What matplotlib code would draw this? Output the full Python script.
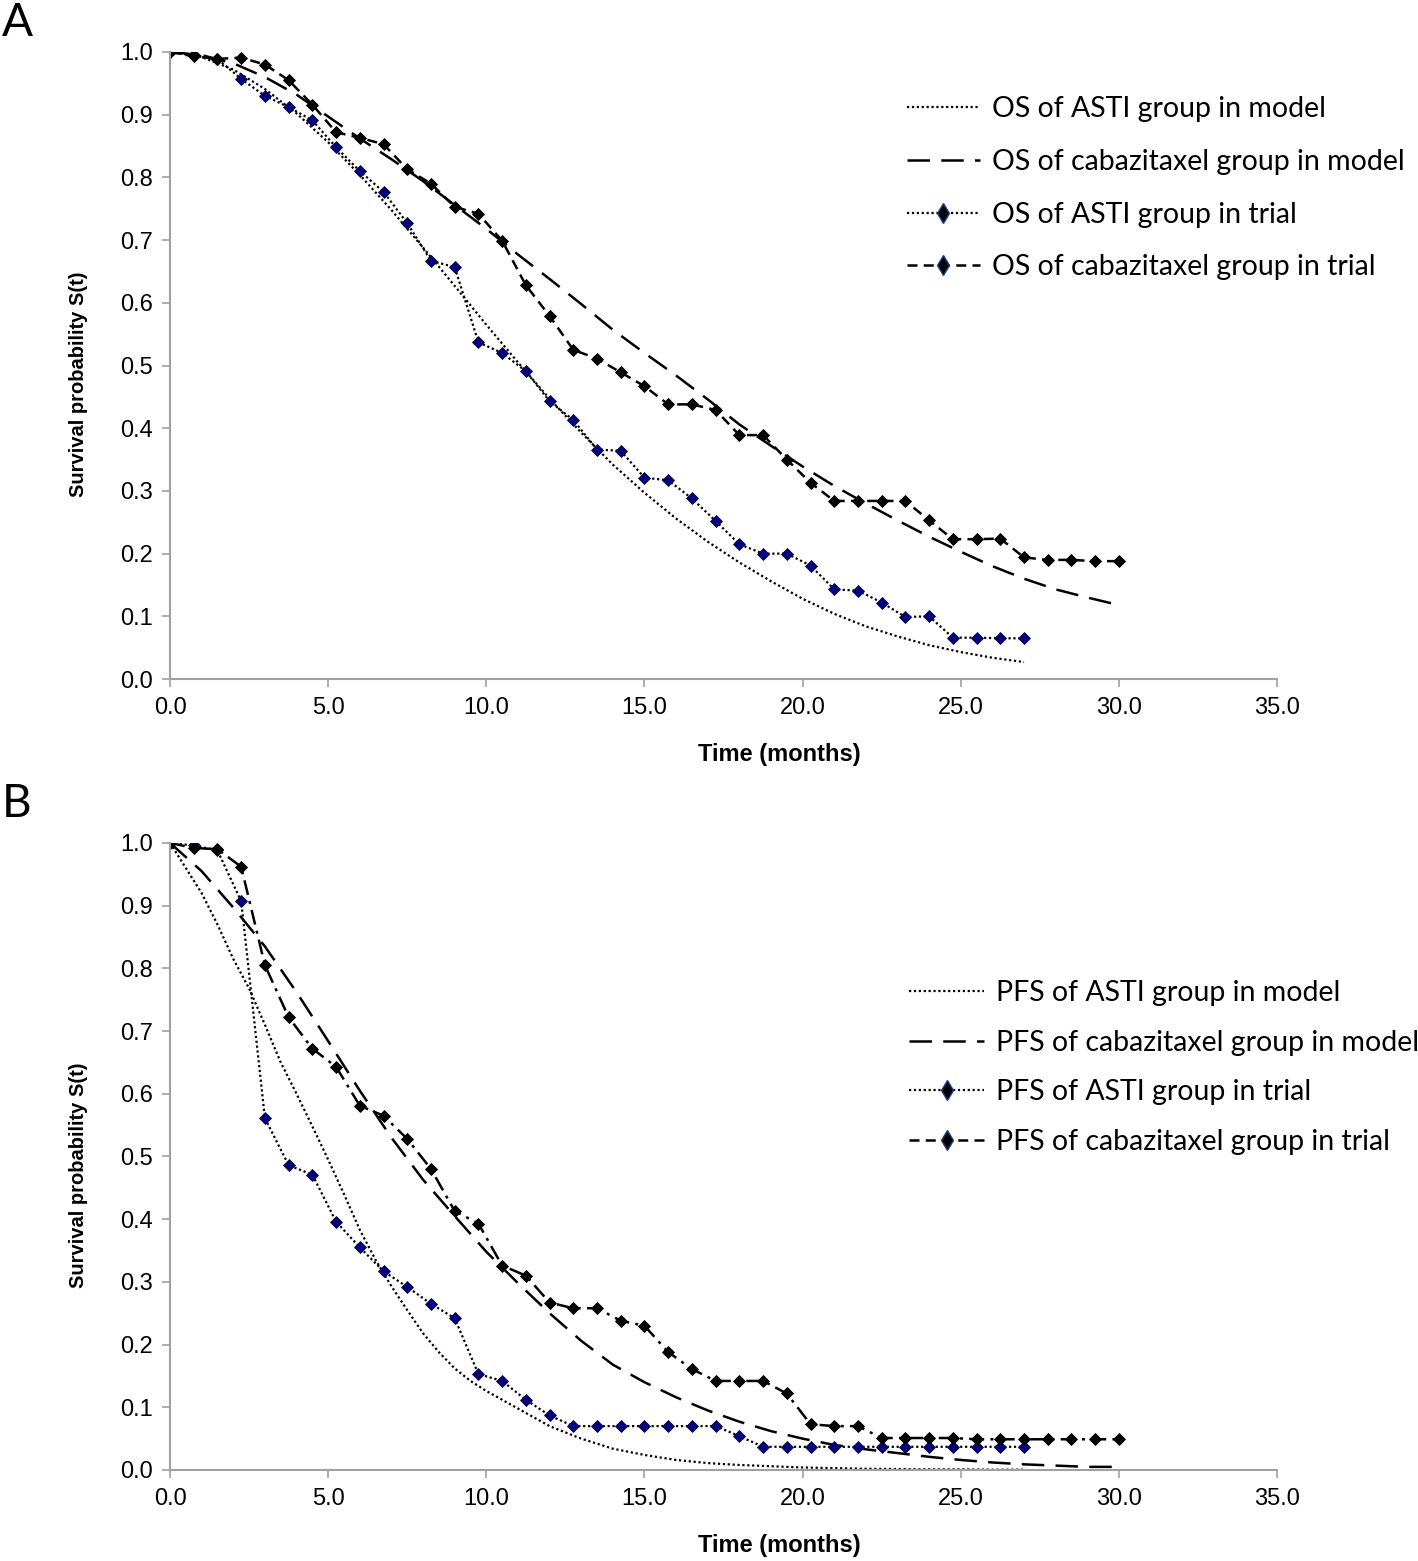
import matplotlib
matplotlib.use('Agg')
import matplotlib.pyplot as plt
from matplotlib.lines import Line2D
from matplotlib.ticker import MultipleLocator, FormatStrFormatter

# time grid of the trial points (every 0.75 month)
trial_t = [0.0, 0.75, 1.5, 2.25, 3.0, 3.75, 4.5, 5.25, 6.0, 6.75, 7.5, 8.25, 9.0, 9.75,
           10.5, 11.25, 12.0, 12.75, 13.5, 14.25, 15.0, 15.75, 16.5, 17.25, 18.0, 18.75,
           19.5, 20.25, 21.0, 21.75, 22.5, 23.25, 24.0, 24.75, 25.5, 26.25, 27.0, 27.75,
           28.5, 29.25, 30.0]

# panel A: overall survival
os_asti_trial = [1.0, 0.995, 0.989, 0.957, 0.930, 0.912, 0.891, 0.848, 0.810, 0.777, 0.727,
                 0.667, 0.657, 0.537, 0.520, 0.491, 0.443, 0.413, 0.366, 0.364, 0.321, 0.317,
                 0.288, 0.252, 0.215, 0.200, 0.200, 0.181, 0.143, 0.141, 0.122, 0.099, 0.100,
                 0.066, 0.066, 0.065, 0.065]
os_cab_trial = [1.0, 0.993, 0.989, 0.991, 0.980, 0.955, 0.916, 0.872, 0.863, 0.853, 0.813,
                0.790, 0.753, 0.742, 0.699, 0.628, 0.579, 0.525, 0.511, 0.489, 0.467, 0.438,
                0.438, 0.429, 0.389, 0.389, 0.350, 0.313, 0.284, 0.284, 0.284, 0.284, 0.253,
                0.223, 0.223, 0.224, 0.194, 0.190, 0.190, 0.188, 0.188]

os_model_t = list(range(0, 31))
os_asti_model = [1.0, 0.992, 0.972, 0.941, 0.902, 0.856, 0.804, 0.748, 0.688, 0.627, 0.565,
                 0.505, 0.447, 0.393, 0.342, 0.297, 0.256, 0.219, 0.186, 0.156, 0.128, 0.104,
                 0.084, 0.068, 0.054, 0.043, 0.034, 0.027]
os_cab_model = [1.0, 0.995, 0.982, 0.960, 0.932, 0.897, 0.862, 0.829, 0.794, 0.756, 0.718,
                0.677, 0.638, 0.598, 0.557, 0.520, 0.484, 0.446, 0.406, 0.372, 0.339, 0.308,
                0.280, 0.253, 0.227, 0.203, 0.180, 0.160, 0.143, 0.130, 0.118]

# panel B: progression-free survival
pfs_asti_trial = [1.0, 0.996, 0.988, 0.907, 0.561, 0.486, 0.471, 0.396, 0.355, 0.317, 0.292,
                  0.265, 0.242, 0.153, 0.142, 0.112, 0.087, 0.070, 0.070, 0.070, 0.070, 0.070,
                  0.070, 0.070, 0.054, 0.037, 0.037, 0.037, 0.037, 0.037, 0.037, 0.037, 0.037,
                  0.037, 0.037, 0.037, 0.037]
pfs_cab_trial = [1.0, 0.992, 0.990, 0.962, 0.805, 0.722, 0.672, 0.643, 0.581, 0.565, 0.528,
                 0.480, 0.413, 0.393, 0.326, 0.310, 0.267, 0.258, 0.258, 0.238, 0.230, 0.188,
                 0.161, 0.142, 0.142, 0.142, 0.122, 0.073, 0.070, 0.070, 0.051, 0.051, 0.051,
                 0.051, 0.049, 0.049, 0.049, 0.049, 0.049, 0.049, 0.049]

pfs_asti_model_t = [0, 0.5, 1, 1.5, 2, 2.5, 3, 3.5, 4, 4.5, 5, 5.5, 6, 6.5, 7, 7.5, 8, 8.5, 9,
                    9.5, 10, 11, 12, 13, 14, 15, 16, 17, 18, 19, 20, 21, 22, 23, 24, 25, 26, 27]
pfs_asti_model = [1.0, 0.96, 0.92, 0.87, 0.815, 0.768, 0.71, 0.65, 0.60, 0.548, 0.495, 0.44,
                  0.383, 0.335, 0.293, 0.255, 0.218, 0.188, 0.162, 0.142, 0.126, 0.098, 0.070,
                  0.050, 0.034, 0.024, 0.016, 0.011, 0.008, 0.006, 0.004, 0.003, 0.002, 0.0015,
                  0.001, 0.001, 0.0005, 0.0005]
pfs_cab_model_t = list(range(0, 31))
pfs_cab_model = [1.0, 0.955, 0.897, 0.835, 0.762, 0.684, 0.605, 0.530, 0.463, 0.405, 0.348,
                 0.298, 0.250, 0.206, 0.168, 0.140, 0.116, 0.095, 0.077, 0.062, 0.050, 0.040,
                 0.033, 0.027, 0.021, 0.016, 0.012, 0.009, 0.007, 0.005, 0.005]

tick_font = 'Liberation Sans'
legend_font = 'Lato'
navy = '#000080'
spine_grey = '#a0a0a0'

model_dot = (0, (1, 1.2))
model_dash = (0, (9, 4.5))
trial_dash = (0, (4, 2.5))
trial_dashdot = (0, (6, 2.5, 1.2, 2.5))

fig = plt.figure(figsize=(14.18, 15.61), dpi=100)
axA = fig.add_axes([0.1199, 0.565, 0.7807, 0.4017])
axB = fig.add_axes([0.1199, 0.0583, 0.7807, 0.4017])


def style_axes(ax):
    ax.set_xlim(0, 35)
    ax.set_ylim(0, 1.0)
    ax.xaxis.set_major_locator(MultipleLocator(5))
    ax.yaxis.set_major_locator(MultipleLocator(0.1))
    ax.xaxis.set_major_formatter(FormatStrFormatter('%.1f'))
    ax.yaxis.set_major_formatter(FormatStrFormatter('%.1f'))
    for s in ['top', 'right']:
        ax.spines[s].set_visible(False)
    for s in ['left', 'bottom']:
        ax.spines[s].set_color(spine_grey)
        ax.spines[s].set_linewidth(1.5)
    ax.tick_params(axis='both', direction='out', length=6, width=1.2, color=spine_grey,
                   labelsize=17)
    ax.tick_params(axis='x', pad=7)
    ax.tick_params(axis='y', pad=6)
    for lab in ax.get_xticklabels() + ax.get_yticklabels():
        lab.set_fontfamily(tick_font)
    ax.set_xlabel('Time (months)', fontsize=17, fontweight='bold', family=tick_font)
    ax.set_ylabel('Survival probability S(t)', fontsize=14.5, fontweight='bold', family=tick_font)
    ax.xaxis.set_label_coords(0.55, -0.102)
    ax.yaxis.set_label_coords(-0.074, 0.47)


# ---- panel A
n_a = len(os_asti_trial)
axA.plot(os_model_t[:len(os_asti_model)], os_asti_model, color='black', lw=1.6, ls=model_dot)
axA.plot(os_model_t, os_cab_model, color='black', lw=1.8, ls=model_dash)
axA.plot(trial_t[:n_a], os_asti_trial, color='black', lw=1.6, ls=model_dot,
         marker='D', ms=6, mfc=navy, mec='#101030', mew=0.6)
axA.plot(trial_t, os_cab_trial, color='black', lw=1.8, ls=trial_dash,
         marker='D', ms=6, mfc='black', mec='black', mew=0.6)
style_axes(axA)

# ---- panel B
axB.plot(pfs_asti_model_t, pfs_asti_model, color='black', lw=1.6, ls=model_dot)
axB.plot(pfs_cab_model_t, pfs_cab_model, color='black', lw=1.8, ls=model_dash)
axB.plot(trial_t[:len(pfs_asti_trial)], pfs_asti_trial, color='black', lw=1.6, ls=model_dot,
         marker='D', ms=6, mfc=navy, mec='#101030', mew=0.6)
axB.plot(trial_t, pfs_cab_trial, color='black', lw=1.8, ls=trial_dashdot,
         marker='D', ms=6, mfc='black', mec='black', mew=0.6)
style_axes(axB)


def legend_handles():
    return [
        Line2D([], [], color='black', lw=1.6, ls=model_dot),
        Line2D([], [], color='black', lw=1.8, ls=model_dash),
        Line2D([], [], color='black', lw=1.6, ls=model_dot, marker='d', ms=10,
               mfc='black', mec='#1f3f8f', mew=1.0),
        Line2D([], [], color='black', lw=1.8, ls=trial_dash, marker='d', ms=10,
               mfc='black', mec='#1f3f8f', mew=1.0),
    ]


labels_a = ['OS of ASTI group in model', 'OS of cabazitaxel group in model',
            'OS of ASTI group in trial', 'OS of cabazitaxel group in trial']
labels_b = ['PFS of ASTI group in model', 'PFS of cabazitaxel group in model',
            'PFS of ASTI group in trial', 'PFS of cabazitaxel group in trial']

leg_size = 20.5
legA = fig.legend(legend_handles(), labels_a, loc='upper left',
                  bbox_to_anchor=(907 / 1418, 1 - 96 / 1561), frameon=False,
                  prop={'family': legend_font, 'size': leg_size}, handlelength=2.55,
                  handletextpad=0.45, labelspacing=0.94, borderpad=0, borderaxespad=0)
legB = fig.legend(legend_handles(), labels_b, loc='upper left',
                  bbox_to_anchor=(909 / 1418, 1 - 980 / 1561), frameon=False,
                  prop={'family': legend_font, 'size': leg_size}, handlelength=2.65,
                  handletextpad=0.42, labelspacing=0.83, borderpad=0, borderaxespad=0)

fig.text(0.001, 0.999, 'A', fontsize=33, family=legend_font, va='top', ha='left')
fig.text(0.001, 0.4985, 'B', fontsize=33, family=legend_font, va='top', ha='left')

fig.savefig('out.png', dpi=100, facecolor='white')
